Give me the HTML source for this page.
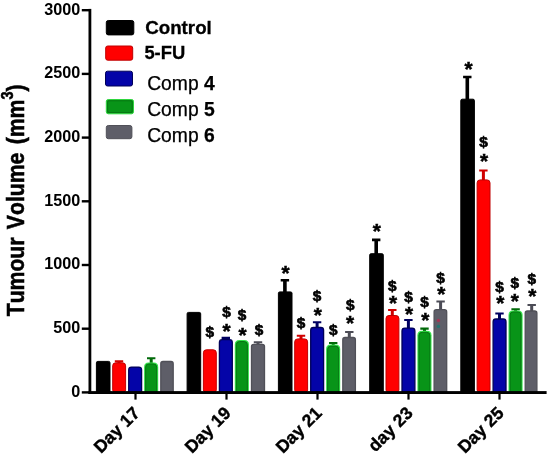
<!DOCTYPE html>
<html lang="en"><head><meta charset="utf-8"><title>Tumour Volume</title>
<style>html,body{margin:0;padding:0;background:#fff}svg{display:block}text{font-kerning:none;font-family:"Liberation Sans",Arial,Helvetica,sans-serif;fill:#000}</style></head><body>
<svg width="550" height="456" viewBox="0 0 550 456" style="will-change:transform">
<rect width="550" height="456" fill="#fff"/>
<path d="M96.4 392.6V362.8Q96.4 361.4 97.8 361.4H108.6Q110.0 361.4 110.0 362.8V392.6Z" fill="#000000" stroke="#000000" stroke-width="1"/>
<path d="M117.5 363.3V362.3H114.8V360.2H123.2V362.3H120.5V363.3Z" fill="#d00000"/>
<path d="M112.7 389.9V365.8Q112.7 362.8 115.7 362.8H122.6Q125.6 362.8 125.6 365.8V389.9Q125.6 391.9 123.6 391.9H114.7Q112.7 391.9 112.7 389.9Z" fill="#ff0000" stroke="#c00000" stroke-width="1"/>
<path d="M128.7 392.6V369.9Q128.7 367.1 131.5 367.1H138.8Q141.6 367.1 141.6 369.9V392.6Z" fill="#0404a8" stroke="#000058" stroke-width="1.3"/>
<path d="M149.7 363.4V359.3H147.0V357.2H155.4V359.3H152.7V363.4Z" fill="#006a08"/>
<path d="M144.1 392.6V366.9Q144.1 362.4 148.6 362.4H153.7Q158.2 362.4 158.2 366.9V392.6Z" fill="#34e24a"/>
<path d="M145.6 392.6V367.1Q145.6 363.9 148.8 363.9H153.5Q156.7 363.9 156.7 367.1V392.6Z" fill="#089418" stroke="#066c10" stroke-width="0.9"/>
<path d="M160.8 392.6V363.7Q160.8 361.5 163.0 361.5H171.0Q173.2 361.5 173.2 363.7V392.6Z" fill="#5e5e68" stroke="#505058" stroke-width="1.3"/>
<path d="M187.1 392.6V313.8Q187.1 312.4 188.5 312.4H199.3Q200.7 312.4 200.7 313.8V392.6Z" fill="#000000" stroke="#000000" stroke-width="1"/>
<path d="M203.4 389.9V352.8Q203.4 349.8 206.4 349.8H213.3Q216.3 349.8 216.3 352.8V389.9Q216.3 391.9 214.3 391.9H205.4Q203.4 391.9 203.4 389.9Z" fill="#ff0000" stroke="#c00000" stroke-width="1"/>
<path d="M224.3 340.2V338.9H221.6V336.8H230.0V338.9H227.3V340.2Z" fill="#000060"/>
<path d="M219.4 392.6V342.5Q219.4 339.7 222.2 339.7H229.5Q232.3 339.7 232.3 342.5V392.6Z" fill="#0404a8" stroke="#000058" stroke-width="1.3"/>
<path d="M234.8 392.6V344.5Q234.8 340.0 239.3 340.0H244.4Q248.9 340.0 248.9 344.5V392.6Z" fill="#34e24a"/>
<path d="M236.3 392.6V344.7Q236.3 341.5 239.5 341.5H244.2Q247.4 341.5 247.4 344.7V392.6Z" fill="#089418" stroke="#066c10" stroke-width="0.9"/>
<path d="M256.5 344.8V343.3H253.8V341.2H262.2V343.3H259.5V344.8Z" fill="#4c4c56"/>
<path d="M251.5 392.6V346.5Q251.5 344.3 253.7 344.3H262.3Q264.5 344.3 264.5 346.5V392.6Z" fill="#5e5e68" stroke="#505058" stroke-width="1.3"/>
<path d="M283.1 292.4V281.6H280.7V279.0H289.1V281.6H286.7V292.4Z" fill="#000000"/>
<path d="M278.4 392.6V293.3Q278.4 291.9 279.8 291.9H290.6Q292.0 291.9 292.0 293.3V392.6Z" fill="#000000" stroke="#000000" stroke-width="1"/>
<path d="M299.5 339.4V336.8H296.8V334.7H305.2V336.8H302.5V339.4Z" fill="#d00000"/>
<path d="M294.7 389.9V341.9Q294.7 338.9 297.7 338.9H304.6Q307.6 338.9 307.6 341.9V389.9Q307.6 391.9 305.6 391.9H296.7Q294.7 391.9 294.7 389.9Z" fill="#ff0000" stroke="#c00000" stroke-width="1"/>
<path d="M315.6 328.0V323.3H312.9V321.2H321.3V323.3H318.6V328.0Z" fill="#000060"/>
<path d="M310.7 392.6V330.3Q310.7 327.5 313.5 327.5H320.8Q323.6 327.5 323.6 330.3V392.6Z" fill="#0404a8" stroke="#000058" stroke-width="1.3"/>
<path d="M331.7 345.6V344.1H329.0V342.0H337.4V344.1H334.7V345.6Z" fill="#006a08"/>
<path d="M326.1 392.6V349.1Q326.1 344.6 330.6 344.6H335.7Q340.2 344.6 340.2 349.1V392.6Z" fill="#34e24a"/>
<path d="M327.6 392.6V349.3Q327.6 346.1 330.8 346.1H335.5Q338.7 346.1 338.7 349.3V392.6Z" fill="#089418" stroke="#066c10" stroke-width="0.9"/>
<path d="M347.8 338.0V333.1H345.1V331.0H353.5V333.1H350.8V338.0Z" fill="#4c4c56"/>
<path d="M342.8 392.6V339.7Q342.8 337.5 345.0 337.5H353.2Q355.4 337.5 355.4 339.7V392.6Z" fill="#5e5e68" stroke="#505058" stroke-width="1.3"/>
<path d="M374.4 254.2V241.2H372.0V238.6H380.4V241.2H378.0V254.2Z" fill="#000000"/>
<path d="M369.7 392.6V255.1Q369.7 253.7 371.1 253.7H381.9Q383.3 253.7 383.3 255.1V392.6Z" fill="#000000" stroke="#000000" stroke-width="1"/>
<path d="M390.8 316.0V311.1H388.1V309.0H396.5V311.1H393.8V316.0Z" fill="#d00000"/>
<path d="M386.0 389.9V318.5Q386.0 315.5 389.0 315.5H395.9Q398.9 315.5 398.9 318.5V389.9Q398.9 391.9 396.9 391.9H388.0Q386.0 391.9 386.0 389.9Z" fill="#ff0000" stroke="#c00000" stroke-width="1"/>
<path d="M406.9 328.6V321.1H404.2V319.0H412.6V321.1H409.9V328.6Z" fill="#000060"/>
<path d="M402.0 392.6V330.9Q402.0 328.1 404.8 328.1H412.1Q414.9 328.1 414.9 330.9V392.6Z" fill="#0404a8" stroke="#000058" stroke-width="1.3"/>
<path d="M423.0 331.8V329.7H420.3V327.6H428.7V329.7H426.0V331.8Z" fill="#006a08"/>
<path d="M417.4 392.6V335.3Q417.4 330.8 421.9 330.8H427.0Q431.5 330.8 431.5 335.3V392.6Z" fill="#34e24a"/>
<path d="M418.9 392.6V335.5Q418.9 332.3 422.1 332.3H426.8Q430.0 332.3 430.0 335.5V392.6Z" fill="#089418" stroke="#066c10" stroke-width="0.9"/>
<path d="M439.1 310.2V302.6H436.4V300.5H444.8V302.6H442.1V310.2Z" fill="#4c4c56"/>
<path d="M434.1 392.6V311.9Q434.1 309.7 436.3 309.7H444.5Q446.7 309.7 446.7 311.9V392.6Z" fill="#5e5e68" stroke="#505058" stroke-width="1.3"/>
<path d="M465.5 99.7V78.3H463.1V75.7H471.5V78.3H469.1V99.7Z" fill="#000000"/>
<path d="M460.8 392.6V100.6Q460.8 99.2 462.2 99.2H473.0Q474.4 99.2 474.4 100.6V392.6Z" fill="#000000" stroke="#000000" stroke-width="1"/>
<path d="M481.9 180.4V171.5H479.2V169.4H487.6V171.5H484.9V180.4Z" fill="#d00000"/>
<path d="M477.1 389.9V182.9Q477.1 179.9 480.1 179.9H487.0Q490.0 179.9 490.0 182.9V389.9Q490.0 391.9 488.0 391.9H479.1Q477.1 391.9 477.1 389.9Z" fill="#ff0000" stroke="#c00000" stroke-width="1"/>
<path d="M498.0 319.5V314.5H495.3V312.4H503.7V314.5H501.0V319.5Z" fill="#000060"/>
<path d="M493.1 392.6V321.8Q493.1 319.0 495.9 319.0H503.2Q506.0 319.0 506.0 321.8V392.6Z" fill="#0404a8" stroke="#000058" stroke-width="1.3"/>
<path d="M514.1 311.4V310.3H511.4V308.2H519.8V310.3H517.1V311.4Z" fill="#006a08"/>
<path d="M508.5 392.6V314.9Q508.5 310.4 513.0 310.4H518.1Q522.6 310.4 522.6 314.9V392.6Z" fill="#34e24a"/>
<path d="M510.0 392.6V315.1Q510.0 311.9 513.2 311.9H517.9Q521.1 311.9 521.1 315.1V392.6Z" fill="#089418" stroke="#066c10" stroke-width="0.9"/>
<path d="M530.2 311.5V306.1H527.5V304.0H535.9V306.1H533.2V311.5Z" fill="#4c4c56"/>
<path d="M525.2 392.6V313.2Q525.2 311.0 527.4 311.0H534.7Q536.9 311.0 536.9 313.2V392.6Z" fill="#5e5e68" stroke="#505058" stroke-width="1.3"/>
<circle cx="438.4" cy="320.4" r="1.7" fill="#b8284e" opacity="0.75"/><circle cx="438.4" cy="326.4" r="1.7" fill="#0e7f74" opacity="0.75"/>
<rect x="88.5" y="8.9" width="2.8" height="385.1" fill="#000"/>
<rect x="88.5" y="391.1" width="458.1" height="2.9" fill="#000"/>
<rect x="81.8" y="391.2" width="8" height="2.4" fill="#000"/>
<text x="80.2" y="396.7" font-size="16.2"font-weight="bold" text-anchor="end">0</text>
<rect x="81.8" y="327.5" width="8" height="2.4" fill="#000"/>
<text x="80.2" y="333.0" font-size="16.2"font-weight="bold" text-anchor="end">500</text>
<rect x="81.8" y="263.8" width="8" height="2.4" fill="#000"/>
<text x="80.2" y="269.3" font-size="16.2"font-weight="bold" text-anchor="end">1000</text>
<rect x="81.8" y="200.1" width="8" height="2.4" fill="#000"/>
<text x="80.2" y="205.6" font-size="16.2"font-weight="bold" text-anchor="end">1500</text>
<rect x="81.8" y="136.4" width="8" height="2.4" fill="#000"/>
<text x="80.2" y="141.9" font-size="16.2"font-weight="bold" text-anchor="end">2000</text>
<rect x="81.8" y="72.7" width="8" height="2.4" fill="#000"/>
<text x="80.2" y="78.2" font-size="16.2"font-weight="bold" text-anchor="end">2500</text>
<rect x="81.8" y="9.0" width="8" height="2.4" fill="#000"/>
<text x="80.2" y="14.5" font-size="16.2"font-weight="bold" text-anchor="end">3000</text>
<rect x="134.4" y="391.1" width="2.2" height="8.5" fill="#000"/>
<text transform="translate(140.8 414.2) rotate(-45)" font-size="17.5" font-weight="bold" stroke="#000" stroke-width="0.4" text-anchor="end">Day 17</text>
<rect x="225.4" y="391.1" width="2.2" height="8.5" fill="#000"/>
<text transform="translate(231.8 414.2) rotate(-45)" font-size="17.5" font-weight="bold" stroke="#000" stroke-width="0.4" text-anchor="end">Day 19</text>
<rect x="316.4" y="391.1" width="2.2" height="8.5" fill="#000"/>
<text transform="translate(322.8 414.2) rotate(-45)" font-size="17.5" font-weight="bold" stroke="#000" stroke-width="0.4" text-anchor="end">Day 21</text>
<rect x="407.4" y="391.1" width="2.2" height="8.5" fill="#000"/>
<text transform="translate(413.8 414.2) rotate(-45)" font-size="17.5" font-weight="bold" stroke="#000" stroke-width="0.4" text-anchor="end">day 23</text>
<rect x="498.4" y="391.1" width="2.2" height="8.5" fill="#000"/>
<text transform="translate(504.8 414.2) rotate(-45)" font-size="17.5" font-weight="bold" stroke="#000" stroke-width="0.4" text-anchor="end">Day 25</text>
<text transform="translate(23.6 316.3) rotate(-90) scale(1 1.13)" font-size="21.2" font-weight="bold" word-spacing="2.4" stroke="#000" stroke-width="0.5">Tumour Volume (mm<tspan font-size="14.5" dy="-9.6">3</tspan><tspan dy="9.6">)</tspan></text>
<rect x="106.3" y="20.5" width="27.5" height="14.4" rx="2" fill="#000000" stroke="#000000" stroke-width="1"/>
<text x="145.2" y="34.1" font-size="18.6" font-weight="bold" stroke="#000" stroke-width="0.3" textLength="66.6" lengthAdjust="spacingAndGlyphs">Control</text>
<rect x="105.7" y="46.0" width="27" height="14.2" rx="2" fill="#ff0000" stroke="#c00000" stroke-width="1"/>
<text x="144.4" y="58.6" font-size="18.4" font-weight="bold" stroke="#000" stroke-width="0.3" textLength="40.8" lengthAdjust="spacingAndGlyphs">5-FU</text>
<rect x="105.5" y="71.2" width="27" height="14.8" rx="2" fill="#0404a8" stroke="#000058" stroke-width="1"/>
<text x="147.2" y="89.6" font-size="19.4" stroke="#000" stroke-width="0.25" textLength="67.6" lengthAdjust="spacingAndGlyphs">Comp <tspan font-weight="bold">4</tspan></text>
<rect x="106.3" y="99.5" width="27.2" height="14.3" rx="2" fill="#089418" stroke="#2fd63f" stroke-width="1"/>
<rect x="107.6" y="100.8" width="24.599999999999998" height="11.700000000000001" rx="1.5" fill="none" stroke="#067a12" stroke-width="1"/>
<text x="147.2" y="115.7" font-size="19.4" stroke="#000" stroke-width="0.25" textLength="67.6" lengthAdjust="spacingAndGlyphs">Comp <tspan font-weight="bold">5</tspan></text>
<rect x="106.3" y="125.5" width="25.6" height="13.2" rx="2" fill="#5e5e68" stroke="#505058" stroke-width="1"/>
<text x="147.2" y="141.9" font-size="19.4" stroke="#000" stroke-width="0.25" textLength="67.6" lengthAdjust="spacingAndGlyphs">Comp <tspan font-weight="bold">6</tspan></text>
<text x="209.7" y="337.2" font-size="14.3" font-weight="bold" text-anchor="middle" textLength="8.51" lengthAdjust="spacingAndGlyphs" stroke="#000" stroke-width="0.65" dx="0">$</text>
<text x="225.8" y="316.9" font-size="14.3" font-weight="bold" text-anchor="middle" textLength="8.51" lengthAdjust="spacingAndGlyphs" stroke="#000" stroke-width="0.65" dx="0.8">$</text>
<text x="225.8" y="338.3" font-size="20.8" font-weight="bold" text-anchor="middle" stroke="#000" stroke-width="0.5" dx="0.7">*</text>
<text x="241.9" y="320.0" font-size="14.3" font-weight="bold" text-anchor="middle" textLength="8.51" lengthAdjust="spacingAndGlyphs" stroke="#000" stroke-width="0.65" dx="0">$</text>
<text x="241.9" y="341.5" font-size="20.8" font-weight="bold" text-anchor="middle" stroke="#000" stroke-width="0.5" dx="0.7">*</text>
<text x="258.0" y="335.3" font-size="14.3" font-weight="bold" text-anchor="middle" textLength="8.51" lengthAdjust="spacingAndGlyphs" stroke="#000" stroke-width="0.65" dx="1.0">$</text>
<text x="284.9" y="279.6" font-size="20.8" font-weight="bold" text-anchor="middle" stroke="#000" stroke-width="0.5" dx="0.7">*</text>
<text x="301.0" y="328.0" font-size="14.3" font-weight="bold" text-anchor="middle" textLength="8.51" lengthAdjust="spacingAndGlyphs" stroke="#000" stroke-width="0.65" dx="0">$</text>
<text x="317.1" y="300.9" font-size="14.3" font-weight="bold" text-anchor="middle" textLength="8.51" lengthAdjust="spacingAndGlyphs" stroke="#000" stroke-width="0.65" dx="0">$</text>
<text x="317.1" y="322.2" font-size="20.8" font-weight="bold" text-anchor="middle" stroke="#000" stroke-width="0.5" dx="0.7">*</text>
<text x="333.2" y="335.4" font-size="14.3" font-weight="bold" text-anchor="middle" textLength="8.51" lengthAdjust="spacingAndGlyphs" stroke="#000" stroke-width="0.65" dx="0">$</text>
<text x="349.3" y="309.9" font-size="14.3" font-weight="bold" text-anchor="middle" textLength="8.51" lengthAdjust="spacingAndGlyphs" stroke="#000" stroke-width="0.65" dx="1.0">$</text>
<text x="349.3" y="330.4" font-size="20.8" font-weight="bold" text-anchor="middle" stroke="#000" stroke-width="0.5" dx="0.7">*</text>
<text x="376.2" y="238.2" font-size="20.8" font-weight="bold" text-anchor="middle" stroke="#000" stroke-width="0.5" dx="0.7">*</text>
<text x="392.3" y="291.2" font-size="14.3" font-weight="bold" text-anchor="middle" textLength="8.51" lengthAdjust="spacingAndGlyphs" stroke="#000" stroke-width="0.65" dx="0">$</text>
<text x="392.3" y="310.0" font-size="20.8" font-weight="bold" text-anchor="middle" stroke="#000" stroke-width="0.5" dx="0.7">*</text>
<text x="408.4" y="301.7" font-size="14.3" font-weight="bold" text-anchor="middle" textLength="8.51" lengthAdjust="spacingAndGlyphs" stroke="#000" stroke-width="0.65" dx="0">$</text>
<text x="408.4" y="321.0" font-size="20.8" font-weight="bold" text-anchor="middle" stroke="#000" stroke-width="0.5" dx="0.7">*</text>
<text x="424.5" y="307.0" font-size="14.3" font-weight="bold" text-anchor="middle" textLength="8.51" lengthAdjust="spacingAndGlyphs" stroke="#000" stroke-width="0.65" dx="0">$</text>
<text x="424.5" y="327.3" font-size="20.8" font-weight="bold" text-anchor="middle" stroke="#000" stroke-width="0.5" dx="0.7">*</text>
<text x="440.6" y="282.7" font-size="14.3" font-weight="bold" text-anchor="middle" textLength="8.51" lengthAdjust="spacingAndGlyphs" stroke="#000" stroke-width="0.65" dx="0">$</text>
<text x="440.6" y="301.4" font-size="20.8" font-weight="bold" text-anchor="middle" stroke="#000" stroke-width="0.5" dx="0.7">*</text>
<text x="467.3" y="75.7" font-size="20.8" font-weight="bold" text-anchor="middle" stroke="#000" stroke-width="0.5" dx="1.2999999999999998">*</text>
<text x="483.4" y="147.1" font-size="14.3" font-weight="bold" text-anchor="middle" textLength="8.51" lengthAdjust="spacingAndGlyphs" stroke="#000" stroke-width="0.65" dx="0">$</text>
<text x="483.4" y="168.2" font-size="20.8" font-weight="bold" text-anchor="middle" stroke="#000" stroke-width="0.5" dx="0.7">*</text>
<text x="499.5" y="291.8" font-size="14.3" font-weight="bold" text-anchor="middle" textLength="8.51" lengthAdjust="spacingAndGlyphs" stroke="#000" stroke-width="0.65" dx="0">$</text>
<text x="499.5" y="310.4" font-size="20.8" font-weight="bold" text-anchor="middle" stroke="#000" stroke-width="0.5" dx="0.7">*</text>
<text x="515.6" y="287.5" font-size="14.3" font-weight="bold" text-anchor="middle" textLength="8.51" lengthAdjust="spacingAndGlyphs" stroke="#000" stroke-width="0.65" dx="-0.8">$</text>
<text x="515.6" y="307.6" font-size="20.8" font-weight="bold" text-anchor="middle" stroke="#000" stroke-width="0.5" dx="-0.9000000000000001">*</text>
<text x="531.7" y="283.8" font-size="14.3" font-weight="bold" text-anchor="middle" textLength="8.51" lengthAdjust="spacingAndGlyphs" stroke="#000" stroke-width="0.65" dx="0">$</text>
<text x="531.7" y="303.0" font-size="20.8" font-weight="bold" text-anchor="middle" stroke="#000" stroke-width="0.5" dx="0.7">*</text>
</svg></body></html>
